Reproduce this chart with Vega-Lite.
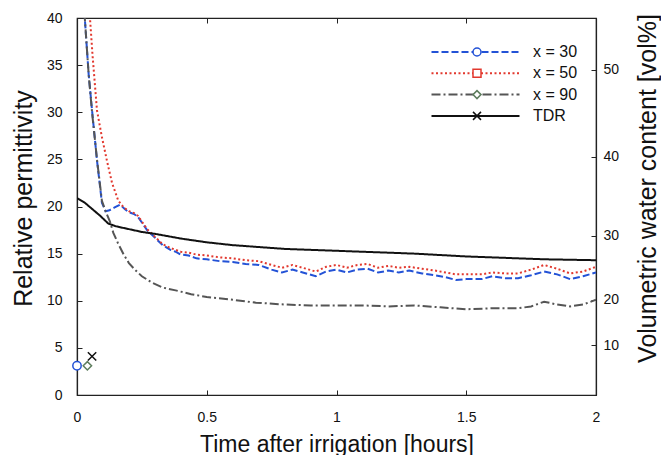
{
  "$schema": "https://vega.github.io/schema/vega-lite/v6.json",
  "autosize": {"type": "none"},
  "padding": {"left": 77, "top": 18, "right": 65, "bottom": 60},
  "width": 519,
  "height": 377,
  "background": "white",
  "config": {
    "font": "Liberation Sans",
    "view": {"stroke": "#222", "strokeWidth": 1.2},
    "axis": {
      "grid": false,
      "domainColor": "#222",
      "domainWidth": 1.2,
      "tickColor": "#222",
      "tickSize": -5,
      "labelColor": "#111",
      "titleColor": "#111",
      "labelFont": "Liberation Sans",
      "titleFont": "Liberation Sans",
      "titleFontWeight": "normal",
      "labelFontSize": 14,
      "labelFlush": false
    },
    "legend": {"labelFont": "Liberation Sans", "labelColor": "#111"}
  },
  "datasets": {
    "lines": [
      {"t":0.02,"eps":46,"s":"x = 30"},{"t":0.03,"eps":40,"s":"x = 30"},{"t":0.045,"eps":34,"s":"x = 30"},{"t":0.058,"eps":30.2,"s":"x = 30"},{"t":0.077,"eps":24.9,"s":"x = 30"},{"t":0.096,"eps":20.4,"s":"x = 30"},{"t":0.11,"eps":19.5,"s":"x = 30"},{"t":0.125,"eps":19.6,"s":"x = 30"},{"t":0.145,"eps":19.9,"s":"x = 30"},{"t":0.166,"eps":20.2,"s":"x = 30"},{"t":0.185,"eps":19.7,"s":"x = 30"},{"t":0.2,"eps":19.4,"s":"x = 30"},{"t":0.22,"eps":19.2,"s":"x = 30"},{"t":0.235,"eps":18.9,"s":"x = 30"},{"t":0.25,"eps":18.3,"s":"x = 30"},{"t":0.27,"eps":17.5,"s":"x = 30"},{"t":0.3,"eps":16.7,"s":"x = 30"},{"t":0.33,"eps":15.9,"s":"x = 30"},{"t":0.36,"eps":15.4,"s":"x = 30"},{"t":0.38,"eps":15.2,"s":"x = 30"},{"t":0.4,"eps":14.9,"s":"x = 30"},{"t":0.43,"eps":14.8,"s":"x = 30"},{"t":0.46,"eps":14.5,"s":"x = 30"},{"t":0.5,"eps":14.4,"s":"x = 30"},{"t":0.55,"eps":14.2,"s":"x = 30"},{"t":0.6,"eps":14.1,"s":"x = 30"},{"t":0.65,"eps":13.9,"s":"x = 30"},{"t":0.7,"eps":13.8,"s":"x = 30"},{"t":0.75,"eps":13.3,"s":"x = 30"},{"t":0.79,"eps":13.0,"s":"x = 30"},{"t":0.83,"eps":13.3,"s":"x = 30"},{"t":0.87,"eps":13.0,"s":"x = 30"},{"t":0.92,"eps":12.6,"s":"x = 30"},{"t":0.96,"eps":13.1,"s":"x = 30"},{"t":1.0,"eps":13.3,"s":"x = 30"},{"t":1.04,"eps":13.0,"s":"x = 30"},{"t":1.08,"eps":13.3,"s":"x = 30"},{"t":1.12,"eps":13.4,"s":"x = 30"},{"t":1.16,"eps":13.0,"s":"x = 30"},{"t":1.2,"eps":13.2,"s":"x = 30"},{"t":1.24,"eps":13.0,"s":"x = 30"},{"t":1.28,"eps":13.2,"s":"x = 30"},{"t":1.33,"eps":12.9,"s":"x = 30"},{"t":1.38,"eps":12.7,"s":"x = 30"},{"t":1.42,"eps":12.5,"s":"x = 30"},{"t":1.46,"eps":12.2,"s":"x = 30"},{"t":1.5,"eps":12.3,"s":"x = 30"},{"t":1.56,"eps":12.3,"s":"x = 30"},{"t":1.6,"eps":12.6,"s":"x = 30"},{"t":1.65,"eps":12.4,"s":"x = 30"},{"t":1.7,"eps":12.4,"s":"x = 30"},{"t":1.75,"eps":12.7,"s":"x = 30"},{"t":1.8,"eps":13.1,"s":"x = 30"},{"t":1.85,"eps":12.8,"s":"x = 30"},{"t":1.9,"eps":12.3,"s":"x = 30"},{"t":1.95,"eps":12.6,"s":"x = 30"},{"t":2.0,"eps":13.0,"s":"x = 30"},

      {"t":0.04,"eps":45,"s":"x = 50"},{"t":0.05,"eps":40,"s":"x = 50"},{"t":0.06,"eps":36,"s":"x = 50"},{"t":0.077,"eps":30.2,"s":"x = 50"},{"t":0.095,"eps":27.5,"s":"x = 50"},{"t":0.115,"eps":24.9,"s":"x = 50"},{"t":0.135,"eps":22.5,"s":"x = 50"},{"t":0.158,"eps":20.7,"s":"x = 50"},{"t":0.17,"eps":20.2,"s":"x = 50"},{"t":0.185,"eps":19.8,"s":"x = 50"},{"t":0.2,"eps":19.5,"s":"x = 50"},{"t":0.22,"eps":19.3,"s":"x = 50"},{"t":0.235,"eps":19.0,"s":"x = 50"},{"t":0.25,"eps":18.4,"s":"x = 50"},{"t":0.27,"eps":17.6,"s":"x = 50"},{"t":0.3,"eps":16.8,"s":"x = 50"},{"t":0.33,"eps":16.0,"s":"x = 50"},{"t":0.36,"eps":15.6,"s":"x = 50"},{"t":0.38,"eps":15.4,"s":"x = 50"},{"t":0.4,"eps":15.2,"s":"x = 50"},{"t":0.43,"eps":15.1,"s":"x = 50"},{"t":0.46,"eps":14.9,"s":"x = 50"},{"t":0.5,"eps":14.8,"s":"x = 50"},{"t":0.55,"eps":14.6,"s":"x = 50"},{"t":0.6,"eps":14.5,"s":"x = 50"},{"t":0.65,"eps":14.3,"s":"x = 50"},{"t":0.7,"eps":14.2,"s":"x = 50"},{"t":0.75,"eps":13.8,"s":"x = 50"},{"t":0.79,"eps":13.5,"s":"x = 50"},{"t":0.83,"eps":13.8,"s":"x = 50"},{"t":0.87,"eps":13.5,"s":"x = 50"},{"t":0.92,"eps":13.1,"s":"x = 50"},{"t":0.96,"eps":13.6,"s":"x = 50"},{"t":1.0,"eps":13.8,"s":"x = 50"},{"t":1.04,"eps":13.5,"s":"x = 50"},{"t":1.08,"eps":13.8,"s":"x = 50"},{"t":1.12,"eps":13.9,"s":"x = 50"},{"t":1.16,"eps":13.5,"s":"x = 50"},{"t":1.2,"eps":13.7,"s":"x = 50"},{"t":1.24,"eps":13.5,"s":"x = 50"},{"t":1.28,"eps":13.6,"s":"x = 50"},{"t":1.33,"eps":13.4,"s":"x = 50"},{"t":1.38,"eps":13.2,"s":"x = 50"},{"t":1.42,"eps":13.0,"s":"x = 50"},{"t":1.46,"eps":12.8,"s":"x = 50"},{"t":1.5,"eps":12.8,"s":"x = 50"},{"t":1.56,"eps":12.8,"s":"x = 50"},{"t":1.6,"eps":13.0,"s":"x = 50"},{"t":1.65,"eps":12.9,"s":"x = 50"},{"t":1.7,"eps":12.9,"s":"x = 50"},{"t":1.75,"eps":13.3,"s":"x = 50"},{"t":1.8,"eps":13.8,"s":"x = 50"},{"t":1.85,"eps":13.4,"s":"x = 50"},{"t":1.9,"eps":12.9,"s":"x = 50"},{"t":1.95,"eps":13.1,"s":"x = 50"},{"t":2.0,"eps":13.6,"s":"x = 50"},

      {"t":0.02,"eps":46,"s":"x = 90"},{"t":0.03,"eps":40,"s":"x = 90"},{"t":0.045,"eps":34,"s":"x = 90"},{"t":0.058,"eps":30,"s":"x = 90"},{"t":0.077,"eps":25,"s":"x = 90"},{"t":0.096,"eps":20.6,"s":"x = 90"},{"t":0.11,"eps":19.5,"s":"x = 90"},{"t":0.127,"eps":18.4,"s":"x = 90"},{"t":0.14,"eps":17.2,"s":"x = 90"},{"t":0.158,"eps":16.1,"s":"x = 90"},{"t":0.18,"eps":14.9,"s":"x = 90"},{"t":0.2,"eps":14.0,"s":"x = 90"},{"t":0.223,"eps":13.3,"s":"x = 90"},{"t":0.25,"eps":12.6,"s":"x = 90"},{"t":0.29,"eps":11.9,"s":"x = 90"},{"t":0.33,"eps":11.4,"s":"x = 90"},{"t":0.38,"eps":11.1,"s":"x = 90"},{"t":0.44,"eps":10.7,"s":"x = 90"},{"t":0.5,"eps":10.4,"s":"x = 90"},{"t":0.6,"eps":10.1,"s":"x = 90"},{"t":0.69,"eps":9.8,"s":"x = 90"},{"t":0.8,"eps":9.6,"s":"x = 90"},{"t":0.9,"eps":9.5,"s":"x = 90"},{"t":1.0,"eps":9.5,"s":"x = 90"},{"t":1.1,"eps":9.5,"s":"x = 90"},{"t":1.2,"eps":9.4,"s":"x = 90"},{"t":1.3,"eps":9.5,"s":"x = 90"},{"t":1.4,"eps":9.3,"s":"x = 90"},{"t":1.5,"eps":9.1,"s":"x = 90"},{"t":1.6,"eps":9.2,"s":"x = 90"},{"t":1.7,"eps":9.2,"s":"x = 90"},{"t":1.75,"eps":9.4,"s":"x = 90"},{"t":1.8,"eps":9.9,"s":"x = 90"},{"t":1.85,"eps":9.6,"s":"x = 90"},{"t":1.9,"eps":9.4,"s":"x = 90"},{"t":1.95,"eps":9.6,"s":"x = 90"},{"t":2.0,"eps":10.1,"s":"x = 90"},

      {"t":0,"eps":20.9,"s":"TDR"},{"t":0.03,"eps":20.4,"s":"TDR"},{"t":0.06,"eps":19.7,"s":"TDR"},{"t":0.09,"eps":19.0,"s":"TDR"},{"t":0.12,"eps":18.2,"s":"TDR"},{"t":0.15,"eps":17.9,"s":"TDR"},{"t":0.2,"eps":17.6,"s":"TDR"},{"t":0.25,"eps":17.3,"s":"TDR"},{"t":0.3,"eps":17.1,"s":"TDR"},{"t":0.4,"eps":16.6,"s":"TDR"},{"t":0.5,"eps":16.2,"s":"TDR"},{"t":0.6,"eps":15.9,"s":"TDR"},{"t":0.7,"eps":15.7,"s":"TDR"},{"t":0.8,"eps":15.5,"s":"TDR"},{"t":0.9,"eps":15.4,"s":"TDR"},{"t":1.0,"eps":15.3,"s":"TDR"},{"t":1.1,"eps":15.2,"s":"TDR"},{"t":1.2,"eps":15.1,"s":"TDR"},{"t":1.3,"eps":15.0,"s":"TDR"},{"t":1.4,"eps":14.85,"s":"TDR"},{"t":1.5,"eps":14.7,"s":"TDR"},{"t":1.6,"eps":14.6,"s":"TDR"},{"t":1.7,"eps":14.5,"s":"TDR"},{"t":1.8,"eps":14.4,"s":"TDR"},{"t":1.9,"eps":14.35,"s":"TDR"},{"t":2.0,"eps":14.3,"s":"TDR"}
    ],
    "markers": [
      {"t":0.0,"eps":3.1,"m":"30"},
      {"t":0.04,"eps":3.1,"m":"90"},
      {"t":0.058,"eps":4.1,"m":"TDR"}
    ]
  },
  "layer": [
    {
      "data": {"name": "lines"},
      "mark": {"type": "line", "clip": true, "strokeWidth": 2, "strokeCap": "butt"},
      "encoding": {
        "x": {
          "field": "t", "type": "quantitative",
          "scale": {"domain": [0, 2], "nice": false, "zero": false},
          "axis": {"orient": "bottom", "values": [0, 0.5, 1, 1.5, 2], "format": ".1~f", "labelPadding": 20,
                   "title": "Time after irrigation [hours]", "titleFontSize": 23, "titleY": 56, "titleBaseline": "alphabetic"}
        },
        "y": {
          "field": "eps", "type": "quantitative",
          "scale": {"domain": [0, 40], "nice": false, "zero": false},
          "axis": {"orient": "left", "values": [0, 5, 10, 15, 20, 25, 30, 35, 40], "labelPadding": 20,
                   "title": "Relative permittivity", "titleFontSize": 25, "titleAngle": -90,
                   "titleX": -54, "titleY": 180, "titleBaseline": "middle", "titleAlign": "center"}
        },
        "color": {
          "field": "s", "type": "nominal",
          "scale": {"domain": ["x = 30", "x = 50", "x = 90", "TDR"], "range": ["#2352d6", "#e2382e", "#555555", "#111111"]},
          "legend": {
            "orient": "none", "legendX": 390.5, "legendY": 26, "title": null, "padding": 0,
            "symbolType": "M-8,0L8,0", "symbolSize": 121, "symbolStrokeWidth": 2,
            "labelFontSize": 16, "labelOffset": 49.5, "rowPadding": 5.3
          }
        },
        "strokeDash": {
          "field": "s", "type": "nominal",
          "scale": {"domain": ["x = 30", "x = 50", "x = 90", "TDR"], "range": [[7, 3], [2, 2.5], [9, 3, 2, 3], [1, 0]]},
          "legend": {
            "orient": "none", "legendX": 390.5, "legendY": 26, "title": null, "padding": 0,
            "symbolType": "M-8,0L8,0", "symbolSize": 121, "symbolStrokeWidth": 2,
            "labelFontSize": 16, "labelOffset": 49.5, "rowPadding": 5.3
          }
        }
      }
    },
    {
      "data": {"name": "markers"},
      "mark": {"type": "point", "filled": false, "fill": "white", "size": 70, "strokeWidth": 1.5, "opacity": 1},
      "encoding": {
        "x": {
          "field": "t", "type": "quantitative",
          "axis": {"orient": "top", "values": [0, 0.5, 1, 1.5, 2], "labels": false, "title": null}
        },
        "y": {
          "field": "eps", "type": "quantitative",
          "axis": {"orient": "right", "values": [5.3, 10.1, 16.9, 25.3, 34.5], "labelPadding": 12,
                   "labelExpr": "datum.value < 7 ? '10' : datum.value < 13 ? '20' : datum.value < 20 ? '30' : datum.value < 30 ? '40' : '50'",
                   "title": "Volumetric water content [vol%]", "titleFontSize": 25, "titleAngle": -90,
                   "titleX": 51, "titleY": 170, "titleBaseline": "middle", "titleAlign": "center"}
        },
        "color": {
          "field": "m", "type": "nominal",
          "scale": {"domain": ["30", "50", "90", "TDR"], "range": ["#2352d6", "#e2382e", "#5d7d5d", "#111111"]},
          "legend": {
            "orient": "none", "legendX": 392, "legendY": 26, "title": null, "padding": 0,
            "symbolSize": 64, "symbolFillColor": "white", "symbolStrokeWidth": 1.5,
            "labelFontSize": 16, "labelExpr": "''", "rowPadding": 5.3
          }
        },
        "shape": {
          "field": "m", "type": "nominal",
          "scale": {"domain": ["30", "50", "90", "TDR"], "range": ["circle", "square", "diamond", "M-1,-1L1,1M-1,1L1,-1"]},
          "legend": {
            "orient": "none", "legendX": 392, "legendY": 26, "title": null, "padding": 0,
            "symbolSize": 64, "symbolFillColor": "white", "symbolStrokeWidth": 1.5,
            "labelFontSize": 16, "labelExpr": "''", "rowPadding": 5.3
          }
        }
      }
    }
  ],
  "resolve": {
    "axis": {"x": "independent", "y": "independent"},
    "scale": {"color": "independent", "strokeDash": "independent", "shape": "independent"},
    "legend": {"color": "independent", "strokeDash": "independent", "shape": "independent"}
  }
}
